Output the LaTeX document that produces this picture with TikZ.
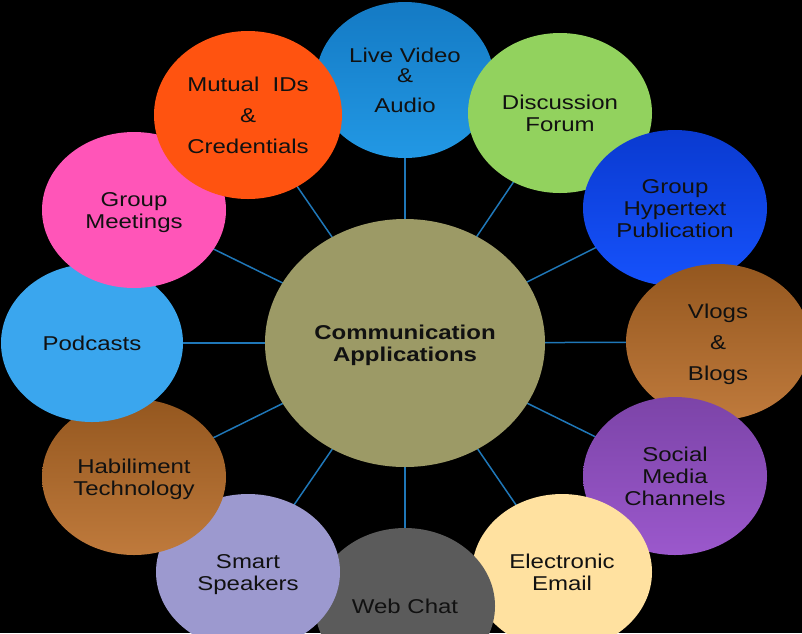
\documentclass[tikz,border=0pt]{standalone}
\usepackage{fontspec}
\setmainfont{Liberation Sans}
\usepackage{graphicx}
\usetikzlibrary{shapes.geometric,shadings}
\pgfdeclarelayer{bg}
\pgfdeclarelayer{links}
\pgfsetlayers{bg,links,main}
\definecolor{cLive1}{RGB}{20,122,196}
\definecolor{cLive2}{RGB}{34,152,228}
\definecolor{cMutual}{RGB}{255,83,16}
\definecolor{cForum}{RGB}{146,210,94}
\definecolor{cHyper1}{RGB}{10,58,208}
\definecolor{cHyper2}{RGB}{22,82,252}
\definecolor{cBrown1}{RGB}{148,87,31}
\definecolor{cBrown2}{RGB}{191,122,60}
\definecolor{cSocial1}{RGB}{124,68,168}
\definecolor{cSocial2}{RGB}{155,88,204}
\definecolor{cEmail}{RGB}{255,225,160}
\definecolor{cChat}{RGB}{91,91,91}
\definecolor{cSmart}{RGB}{156,153,207}
\definecolor{cPod}{RGB}{58,166,238}
\definecolor{cMeet}{RGB}{255,85,184}
\definecolor{cCenter}{RGB}{156,154,102}
\definecolor{cLink}{RGB}{31,119,184}
\definecolor{cText}{RGB}{17,17,17}
\newcommand{\lbl}[1]{\raisebox{-3pt}[\height][\depth]{\scalebox{1.2}[1]{\begin{tabular}{@{}c@{}}#1\end{tabular}}}}
\tikzset{
  bubble/.style={ellipse, inner sep=0pt, minimum width=184pt, minimum height=156pt,
    text=cText, font=\fontsize{20}{22}\selectfont},
  link/.style={draw=cLink, line width=1.5pt}
}
\begin{document}
\begin{tikzpicture}[x=1pt,y=-1pt]
\begin{pgfonlayer}{bg}
\fill[black] (0,0) rectangle (802,633);
\end{pgfonlayer}
\useasboundingbox (0,0) rectangle (802,633);

\node[bubble, top color=cLive1, bottom color=cLive2, minimum width=178pt] (live) at (405,80)
  {\lbl{Live Video\\[-2pt]\&\\[8pt]Audio}};
\node[bubble, fill=cForum, minimum height=160pt] (forum) at (560,113) {\lbl{Discussion\\Forum}};
\node[bubble, top color=cHyper1, bottom color=cHyper2] (hyper) at (675,208) {\lbl{Group\\Hypertext\\Publication}};
\node[bubble, top color=cBrown1, bottom color=cBrown2] (vlogs) at (718,342) {\lbl{Vlogs\\[9pt]\&\\[9pt]Blogs}};
\node[bubble, top color=cSocial1, bottom color=cSocial2, minimum height=158pt] (social) at (675,476) {\lbl{Social\\Media\\Channels}};
\node[bubble, fill=cEmail, minimum width=180pt] (email) at (562,572) {\lbl{Electronic\\Email}};
\node[bubble, fill=cChat, minimum width=180pt] (chat) at (405,606) {\lbl{Web Chat}};
\node[bubble, fill=cSmart] (smart) at (248,572) {\lbl{Smart\\Speakers}};
\node[bubble, top color=cBrown1, bottom color=cBrown2] (habil) at (134,477) {\lbl{Habiliment\\Technology}};
\node[bubble, fill=cPod, minimum width=182pt, minimum height=158pt] (pod) at (92,343) {\lbl{Podcasts}};
\node[bubble, fill=cMeet] (meet) at (134,210) {\lbl{Group\\Meetings}};
\node[bubble, fill=cMutual, minimum width=188pt, minimum height=168pt] (mutual) at (248,115) {\lbl{Mutual~ IDs\\[9pt]\&\\[9pt]Credentials}};

\node[bubble, fill=cCenter, minimum width=280pt, minimum height=248pt,
  font=\fontsize{20}{22}\selectfont\bfseries] (hub) at (405,343) {\lbl{Communication\\Applications}};

\begin{pgfonlayer}{links}
\foreach \n in {live,forum,hyper,vlogs,social,email,chat,smart,habil,pod,meet,mutual}
  \draw[link] (hub.center) -- (\n.center);
\end{pgfonlayer}
\end{tikzpicture}
\end{document}
